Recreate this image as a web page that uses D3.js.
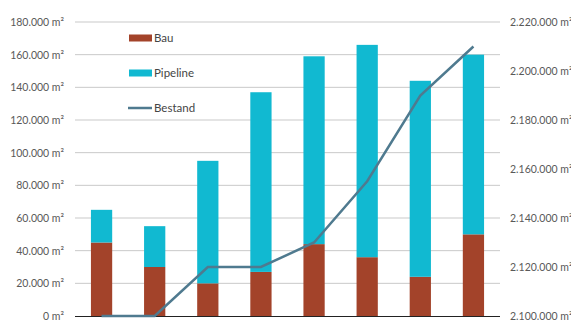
<!DOCTYPE html>
<html>
<head>
<meta charset="utf-8">
<script src="https://cdn.jsdelivr.net/npm/d3@7"></script>
<style>
  html, body { margin: 0; padding: 0; background: #fff; }
  svg { display: block; }
  text { font-family: Lato, "Open Sans", sans-serif; }
</style>
</head>
<body>
<svg id="chart" width="571" height="326"></svg>
<script>
// ---- data ----
const categories = ["1", "2", "3", "4", "5", "6", "7", "8"];
const bau      = [45000, 30000, 20000, 27000, 44000, 36000, 24000, 50000];
const pipeline = [20000, 25000, 75000, 110000, 115000, 130000, 120000, 110000];
const bestand  = [2100000, 2100000, 2120000, 2120000, 2130000, 2155000, 2190000, 2210000];
const leftTicks  = [0, 20000, 40000, 60000, 80000, 100000, 120000, 140000, 160000, 180000];
const rightTicks = [2100000, 2120000, 2140000, 2160000, 2180000, 2200000, 2220000];
const seriesNames = ["Bau", "Pipeline", "Bestand"];
const colors = { Bau: "#A3432A", Pipeline: "#11B9D1", Bestand: "#4F7A8F" };

// ---- setup ----
const svg = d3.select("#chart");
const x0 = 75, x1 = 500, yTop = 22, yBot = 316;

const de = d3.formatLocale({ decimal: ",", thousands: ".", grouping: [3], currency: ["", " €"] });
const fmt = v => de.format(",.0f")(v) + " m²";

const x = d3.scaleBand().domain(categories).range([x0, x1]).paddingInner(0.6).paddingOuter(0.3);
const yL = d3.scaleLinear().domain([0, 180000]).range([yBot, yTop]);
const yR = d3.scaleLinear().domain([2100000, 2220000]).range([yBot, yTop]);

// gridlines
svg.append("g").selectAll("line").data(leftTicks.filter(d => d > 0)).join("line")
  .attr("x1", x0).attr("x2", x1)
  .attr("y1", d => yL(d)).attr("y2", d => yL(d))
  .attr("stroke", "#c9c9c9").attr("stroke-width", 1);

// left axis
const axL = svg.append("g").attr("transform", `translate(${x0},0)`)
  .call(d3.axisLeft(yL).tickValues(leftTicks).tickFormat(fmt).tickSize(0).tickPadding(11));
axL.select(".domain").remove();
axL.selectAll("text").attr("fill", "#595959").style("font-size", "10.5px");

// right axis
const axR = svg.append("g").attr("transform", `translate(${x1},0)`)
  .call(d3.axisRight(yR).tickValues(rightTicks).tickFormat(fmt).tickSize(0).tickPadding(10));
axR.select(".domain").remove();
axR.selectAll("text").attr("fill", "#595959").style("font-size", "10.5px");

// stacked bars
const rows = categories.map((c, i) => ({ cat: c, Bau: bau[i], Pipeline: pipeline[i] }));
const stack = d3.stack().keys(["Bau", "Pipeline"])(rows);
svg.append("g").selectAll("g").data(stack).join("g")
  .attr("fill", d => colors[d.key])
  .selectAll("rect").data(d => d).join("rect")
  .attr("x", d => x(d.data.cat))
  .attr("width", x.bandwidth())
  .attr("y", d => yL(d[1]))
  .attr("height", d => yL(d[0]) - yL(d[1]));

// baseline
svg.append("line").attr("x1", x0).attr("x2", x1)
  .attr("y1", yBot + 0.5).attr("y2", yBot + 0.5)
  .attr("stroke", "#222").attr("stroke-width", 1);

// line
const line = d3.line()
  .x((d, i) => x(categories[i]) + x.bandwidth() / 2)
  .y(d => yR(d));
svg.append("path").datum(bestand)
  .attr("d", line)
  .attr("fill", "none")
  .attr("stroke", colors.Bestand)
  .attr("stroke-width", 2.5);

// legend
const lg = svg.append("g");
const ly = [38, 73, 108];
seriesNames.forEach((name, i) => {
  if (name === "Bestand") {
    lg.append("line").attr("x1", 128).attr("x2", 152)
      .attr("y1", ly[i]).attr("y2", ly[i])
      .attr("stroke", colors[name]).attr("stroke-width", 2.5);
  } else {
    lg.append("rect").attr("x", 129).attr("y", ly[i] - 3.5)
      .attr("width", 23).attr("height", 7).attr("fill", colors[name]);
  }
  lg.append("text").attr("x", 154).attr("y", ly[i]).attr("dy", "0.35em")
    .attr("fill", "#444").style("font-size", "11.5px").text(name);
});
</script>
</body>
</html>
